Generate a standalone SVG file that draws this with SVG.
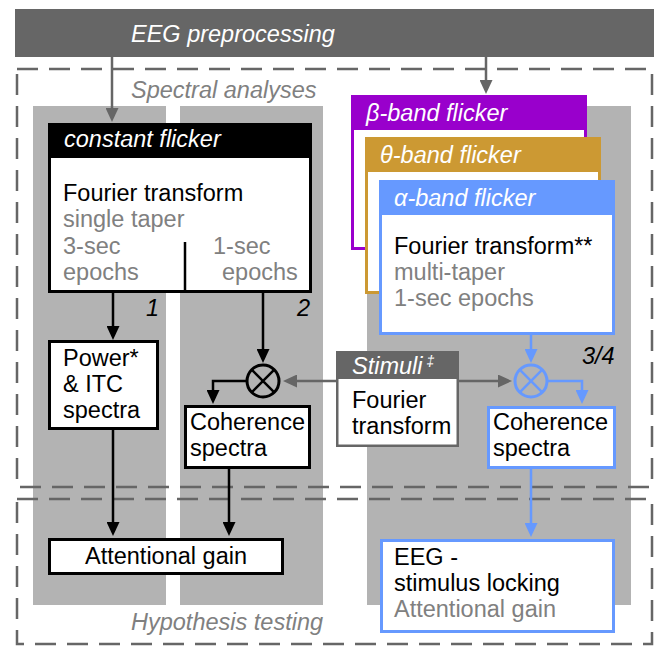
<svg xmlns="http://www.w3.org/2000/svg" width="659" height="646" viewBox="0 0 659 646">
<style>
text{font-family:"Liberation Sans",Arial,sans-serif;font-size:23.5px;fill:#000}
.it{font-style:italic}
.wh{fill:#fff}
.gy{fill:#808080}
.col{fill:#b3b3b3}
.dash{fill:none;stroke:#666;stroke-width:2.5;stroke-dasharray:21 11}
.bk{fill:#fff;stroke:#000;stroke-width:3}
.bl{fill:#fff;stroke:#6699ff;stroke-width:3}
.cb{fill:none;stroke:#000;stroke-width:2.5}
.cg{fill:none;stroke:#666;stroke-width:2.5}
.cl{fill:none;stroke:#6699ff;stroke-width:2.5}
</style>
<defs>
<marker id="ab" viewBox="0 0 14 13" refX="10" refY="6.5" markerWidth="14" markerHeight="13" markerUnits="userSpaceOnUse" orient="auto"><path d="M0,0 L14,6.5 L0,13 z" fill="#000"/></marker>
<marker id="ag" viewBox="0 0 14 13" refX="10" refY="6.5" markerWidth="14" markerHeight="13" markerUnits="userSpaceOnUse" orient="auto"><path d="M0,0 L14,6.5 L0,13 z" fill="#666"/></marker>
<marker id="al" viewBox="0 0 14 13" refX="10" refY="6.5" markerWidth="14" markerHeight="13" markerUnits="userSpaceOnUse" orient="auto"><path d="M0,0 L14,6.5 L0,13 z" fill="#6699ff"/></marker>
</defs>
<rect width="659" height="646" fill="#fff"/>
<g id="columns">
<rect class="col" x="33" y="106" width="133" height="499"/>
<rect class="col" x="180" y="106" width="143" height="499"/>
<rect class="col" x="367" y="106" width="264" height="499"/>
</g>
<g id="spectral-analyses">
<rect class="dash" x="17" y="69" width="635" height="418"/>
<text class="it gy" x="131" y="98">Spectral analyses</text>
</g>
<g id="hypothesis-testing">
<rect class="dash" x="17" y="499" width="635" height="145"/>
<text class="it gy" x="131" y="630">Hypothesis testing</text>
</g>
<g id="eeg-preprocessing">
<rect x="15" y="9" width="639" height="48" fill="#666"/>
<text class="it wh" x="131" y="42">EEG preprocessing</text>
</g>
<g id="connectors">
<path class="cg" d="M112,57 V118" marker-end="url(#ag)"/>
<path class="cg" d="M486,57 V90" marker-end="url(#ag)"/>
<path class="cb" d="M113,293 V336" marker-end="url(#ab)"/>
<path class="cb" d="M263,293 V359" marker-end="url(#ab)"/>
<path class="cb" d="M247,381 H213 V400" marker-end="url(#ab)"/>
<path class="cg" d="M337,381 H287" marker-end="url(#ag)"/>
<path class="cg" d="M459,381 H508" marker-end="url(#ag)"/>
<path class="cl" d="M531,335 V359" marker-end="url(#al)"/>
<path class="cl" d="M547,381 H582 V400" marker-end="url(#al)"/>
<path class="cb" d="M113,429 V532" marker-end="url(#ab)"/>
<path class="cb" d="M229,469 V532" marker-end="url(#ab)"/>
<path class="cl" d="M531,469 V533" marker-end="url(#al)"/>
<text class="it" x="146" y="316">1</text>
<text class="it" x="297" y="316">2</text>
<text class="it" x="582" y="364">3/4</text>
</g>
<g id="multiply-black">
<circle cx="263" cy="381" r="16" fill="none" stroke="#000" stroke-width="3"/>
<path d="M251.7,369.7 L274.3,392.3 M274.3,369.7 L251.7,392.3" stroke="#000" stroke-width="2.5"/>
</g>
<g id="multiply-blue">
<circle cx="531" cy="381" r="16" fill="none" stroke="#6699ff" stroke-width="3"/>
<path d="M519.7,369.7 L542.3,392.3 M542.3,369.7 L519.7,392.3" stroke="#6699ff" stroke-width="2.5"/>
</g>
<g id="constant-flicker">
<rect class="bk" x="49.5" y="124.5" width="261" height="167"/>
<rect x="48" y="123" width="264" height="35" fill="#000"/>
<text class="it wh" x="64" y="147">constant flicker</text>
<text x="63" y="201">Fourier transform</text>
<text class="gy" x="63" y="227">single taper</text>
<text class="gy" x="63" y="254">3-sec</text>
<text class="gy" x="63" y="280">epochs</text>
<text class="gy" x="213" y="254">1-sec</text>
<text class="gy" x="222" y="280">epochs</text>
<path d="M185,242 V292" stroke="#000" stroke-width="2.5"/>
</g>
<g id="power-itc">
<rect class="bk" x="49.5" y="341.5" width="108" height="87"/>
<text x="63" y="366">Power*</text>
<text x="63" y="392">&amp; ITC</text>
<text x="63" y="418">spectra</text>
</g>
<g id="coherence-black">
<rect class="bk" x="185.5" y="406.5" width="124" height="61"/>
<text x="190" y="430">Coherence</text>
<text x="190" y="456">spectra</text>
</g>
<g id="attentional-gain">
<rect class="bk" x="49.5" y="539.5" width="233" height="34"/>
<text x="166" y="564" text-anchor="middle">Attentional gain</text>
</g>
<g id="stimuli">
<rect x="337.25" y="352.25" width="120.5" height="93.5" fill="#fff" stroke="#666" stroke-width="2.5"/>
<rect x="336" y="351" width="123" height="28" fill="#666"/>
<text class="it wh" x="352" y="374">Stimuli<tspan font-size="14" dx="4" dy="-8">‡</tspan></text>
<text x="352" y="408">Fourier</text>
<text x="352" y="434">transform</text>
</g>
<g id="beta-flicker">
<rect x="352.5" y="96.5" width="233" height="152" fill="#fff" stroke="#9900cc" stroke-width="3"/>
<rect x="351" y="95" width="236" height="35" fill="#9900cc"/>
<text class="it wh" x="366" y="121">β-band flicker</text>
</g>
<g id="theta-flicker">
<rect x="366.5" y="138.5" width="233" height="154" fill="#fff" stroke="#cc9933" stroke-width="3"/>
<rect x="365" y="137" width="236" height="35" fill="#cc9933"/>
<text class="it wh" x="380" y="163">θ-band flicker</text>
</g>
<g id="alpha-flicker">
<rect class="bl" x="380.5" y="181.5" width="233" height="152"/>
<rect x="379" y="180" width="236" height="35" fill="#6699ff"/>
<text class="it wh" x="394" y="206">α-band flicker</text>
<text x="394" y="254">Fourier transform**</text>
<text class="gy" x="394" y="280">multi-taper</text>
<text class="gy" x="394" y="306">1-sec epochs</text>
</g>
<g id="coherence-blue">
<rect class="bl" x="488.5" y="407.5" width="126" height="60"/>
<text x="493" y="430">Coherence</text>
<text x="493" y="456">spectra</text>
</g>
<g id="eeg-stimulus-locking">
<rect class="bl" x="381.5" y="540.5" width="232" height="91"/>
<text x="394" y="565">EEG -</text>
<text x="394" y="591">stimulus locking</text>
<text class="gy" x="394" y="617">Attentional gain</text>
</g>
</svg>
